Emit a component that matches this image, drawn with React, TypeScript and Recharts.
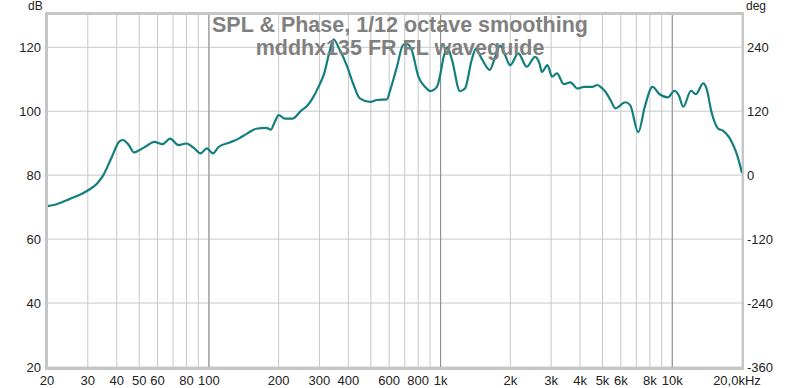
import React from 'react'
import { LineChart, Line, XAxis, YAxis, CartesianGrid, ReferenceLine } from 'recharts'

// frequency (Hz) and SPL (dB)
const freqs = [
  20, 22, 25, 30, 33, 35, 38, 41, 42.5, 45, 47.5, 50, 54, 58, 63, 68, 74, 80, 86, 92, 98, 104,
  110, 123, 135, 146, 160, 177, 185, 192, 200, 212, 230, 250, 265, 280, 297, 315, 330, 345, 365,
  393, 420, 448, 496, 531, 586, 606, 648, 690, 720, 751, 802, 860, 902, 964, 1000, 1031, 1070,
  1120, 1212, 1274, 1362, 1420, 1502, 1630, 1720, 1808, 1900, 1996, 2166, 2354, 2558, 2670, 2738,
  2894, 3026, 3180, 3400, 3636, 3890, 4156, 4512, 4744, 4990, 5148, 5410, 5684, 6268, 6580, 7132,
  7612, 8210, 8820, 9560, 10220, 10660, 11160, 12040, 12640, 13600, 14060, 14760, 15750, 16520,
  18060, 18950, 20000,
]
const spl = [
  70.3, 70.9, 72.5, 75.2, 77.5, 80, 85.5, 90.5, 91.0, 89.5, 87.1, 87.8, 89.2, 90.4, 89.7, 91.4,
  89.4, 89.9, 88.5, 86.8, 88.4, 86.8, 88.8, 90.2, 91.5, 93.0, 94.5, 94.8, 94.2, 96.5, 98.8, 97.7,
  97.7, 100.2, 101.6, 104, 107.6, 112, 118, 122.5, 119.5, 114.4, 108.5, 104, 102.9, 103.5, 103.7,
  106.6, 113.9, 120.8, 121.0, 119, 110.8, 107.5, 106.3, 107.6, 112, 117, 120, 116, 106.3, 107.1,
  116, 119.5, 116.5, 112.9, 117, 120.5, 117.5, 114.4, 118.1, 113.9, 117, 115, 112.3, 114.4, 110.8,
  111.8, 108.5, 109, 107.1, 107.6, 107.6, 108.2, 107.1, 106.1, 103.5, 100.9, 102.8, 101.9, 93.4,
  101.4, 107.6, 105.3, 104.3, 106.4, 105, 101.4, 106.4, 105.3, 108.7, 107.1, 99.8, 94.6, 93.9,
  90.4, 86.8, 80.7,
]

const freqTicks = [
  20, 30, 40, 50, 60, 70, 80, 90, 100, 200, 300, 400, 500, 600, 700, 800, 900, 1000, 2000, 3000,
  4000, 5000, 6000, 7000, 8000, 9000, 10000, 20000,
]
const freqLabels: Record<number, string> = {
  20: '20', 30: '30', 40: '40', 50: '50', 60: '60', 80: '80', 100: '100', 200: '200', 300: '300',
  400: '400', 600: '600', 800: '800', 1000: '1k', 2000: '2k', 3000: '3k', 4000: '4k', 5000: '5k',
  6000: '6k', 8000: '8k', 10000: '10k', 20000: '20,0kHz',
}
const dbTicks = [20, 40, 60, 80, 100, 120]
const degTicks = [-360, -240, -120, 0, 120, 240]
const decades = [100, 1000, 10000]

const data = freqs.map((f, i) => ({ f, spl: spl[i] }))

const FONT = '"Liberation Sans", Arial, sans-serif'

function FreqTick(props: any) {
  const { x, y, payload } = props
  const label = freqLabels[payload.value] ?? ''
  const dx = payload.value === 20000 ? -5 : 0
  return (
    <text x={x + dx} y={y} dy="0.71em" textAnchor="middle" fill="#222" fontSize={13} fontFamily={FONT}>
      {label}
    </text>
  )
}

export default function App() {
  return (
    <div style={{ position: 'absolute', left: 0, top: 0, width: 800, height: 388, background: '#fff', fontFamily: FONT }}>
      <LineChart width={800} height={388} data={data} margin={{ top: 14, right: 0, bottom: 0, left: 0 }}>
        <CartesianGrid stroke="#c8c8c8" yAxisId="left" strokeWidth={1} />
        <XAxis
          dataKey="f"
          type="number"
          scale="log"
          domain={[20, 20000]}
          ticks={freqTicks}
          interval={0}
          height={21}
          tickSize={0}
          tickMargin={9}
          axisLine={false}
          tickLine={false}
          tick={<FreqTick />}
          allowDataOverflow
        />
        <YAxis
          yAxisId="left"
          domain={[20, 130.4]}
          ticks={dbTicks}
          width={47}
          tickSize={0}
          tickMargin={6}
          axisLine={false}
          tickLine={false}
          tick={{ fill: '#222', fontSize: 13, fontFamily: FONT }}
          allowDataOverflow
        />
        <YAxis
          yAxisId="right"
          orientation="right"
          domain={[-360, 302.4]}
          ticks={degTicks}
          width={58}
          tickSize={0}
          tickMargin={5}
          axisLine={false}
          tickLine={false}
          tick={{ fill: '#222', fontSize: 13, fontFamily: FONT }}
          allowDataOverflow
        />
        {decades.map((d) => (
          <ReferenceLine key={d} x={d} yAxisId="left" stroke="#8a8a8a" strokeWidth={1} />
        ))}
        <Line
          yAxisId="left"
          type="monotone"
          dataKey="spl"
          stroke="#137e7e"
          strokeWidth={2.2}
          dot={false}
          isAnimationActive={false}
        />
      </LineChart>
      {/* plot frame */}
      <div
        style={{
          position: 'absolute',
          left: 45,
          top: 12,
          width: 694,
          height: 352,
          border: '3px solid #c6c6c6',
          borderRightWidth: 2,
          pointerEvents: 'none',
        }}
      />
      <div style={{ position: 'absolute', left: 28, top: 0, fontSize: 12, lineHeight: '12px', color: '#222' }}>dB</div>
      <div style={{ position: 'absolute', left: 746, top: 0, fontSize: 12, lineHeight: '12px', color: '#222' }}>deg</div>
      <div
        style={{
          position: 'absolute',
          left: 0,
          top: 14,
          width: 800,
          textAlign: 'center',
          fontSize: 21.5,
          lineHeight: '23px',
          fontWeight: 'bold',
          color: '#808080',
          pointerEvents: 'none',
        }}
      >
        <div>SPL &amp; Phase, 1/12 octave smoothing</div>
        <div>mddhx135 FR FL waveguide</div>
      </div>
    </div>
  )
}
